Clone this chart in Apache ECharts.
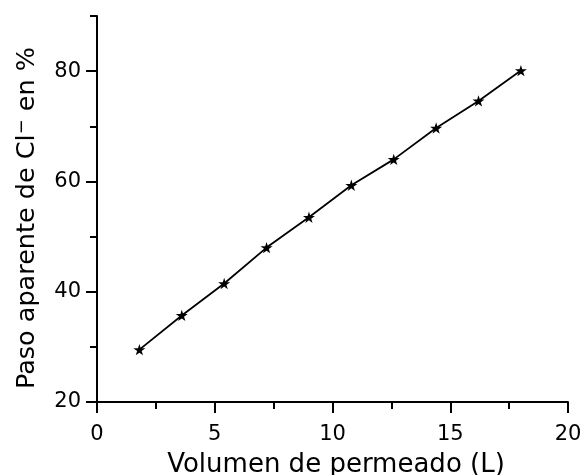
<!DOCTYPE html>
<html>
<head>
<meta charset="utf-8">
<script src="https://cdn.jsdelivr.net/npm/echarts@6/dist/echarts.min.js"></script>
<style>
  html, body { margin: 0; padding: 0; background: #fff; }
  #chart { width: 584px; height: 475px; }
</style>
</head>
<body>
<div id="chart"></div>
<script>
const volumen = [1.8, 3.6, 5.4, 7.2, 9.0, 10.8, 12.6, 14.4, 16.2, 18.0]
const paso = [29.5, 35.7, 41.5, 48.0, 53.5, 59.3, 64.0, 69.7, 74.6, 80.1]
const yLabels = [20, 40, 60, 80]

const xName = "Volumen de permeado (L)"
const yName = "Paso aparente de Cl{sup|−} en %"

const star = "path://M50,0 L61,35 L98,35 L68,57 L79,91 L50,70 L21,91 L32,57 L2,35 L39,35 Z"
const font = "DejaVu Sans, sans-serif"
const black = "#000"

const chart = echarts.init(document.getElementById("chart"))

chart.setOption({
  animation: false,
  grid: { left: 97, right: 16, top: 16, bottom: 73, outerBoundsMode: "none", containLabel: false },
  xAxis: {
    type: "value",
    min: 0,
    max: 20,
    interval: 5,
    name: xName,
    nameLocation: "middle",
    nameGap: 50,
    nameTextStyle: { fontFamily: font, fontSize: 26, color: black, padding: [0, 0, 0, 7] },
    axisLine: { lineStyle: { color: black, width: 2 } },
    axisTick: { length: 11, lineStyle: { color: black, width: 2 } },
    minorTick: { show: true, splitNumber: 2, length: 7, lineStyle: { color: black, width: 2 } },
    axisLabel: { fontFamily: font, fontSize: 21, color: black, margin: 22 },
    splitLine: { show: false }
  },
  yAxis: [{
    type: "value",
    min: 20,
    max: 90,
    interval: 10,
    name: yName,
    nameLocation: "middle",
    nameGap: 56,
    nameTextStyle: {
      fontFamily: font, fontSize: 25.5, color: black, padding: [0, 18, 0, 0],
      rich: { sup: { fontFamily: font, fontSize: 18, color: black, padding: [0, 0, 10, 0] } }
    },
    axisLine: { lineStyle: { color: black, width: 2 } },
    axisTick: {
      length: 11, customValues: yLabels, lineStyle: { color: black, width: 2 }
    },
    axisLabel: { fontFamily: font, fontSize: 21, color: black, margin: 16, customValues: yLabels },
    splitLine: { show: false }
  }, {
    type: "value",
    position: "left",
    min: 20,
    max: 90,
    interval: 10,
    axisLine: { show: false },
    axisTick: { length: 7, lineStyle: { color: black, width: 2 } },
    axisLabel: { show: false },
    splitLine: { show: false }
  }],
  series: [{
    type: "line",
    data: volumen.map((v, i) => [v, paso[i]]),
    symbol: star,
    symbolSize: 12,
    symbolKeepAspect: true,
    itemStyle: { color: black, borderWidth: 0 },
    lineStyle: { color: black, width: 1.8 }
  }]
})
</script>
</body>
</html>
